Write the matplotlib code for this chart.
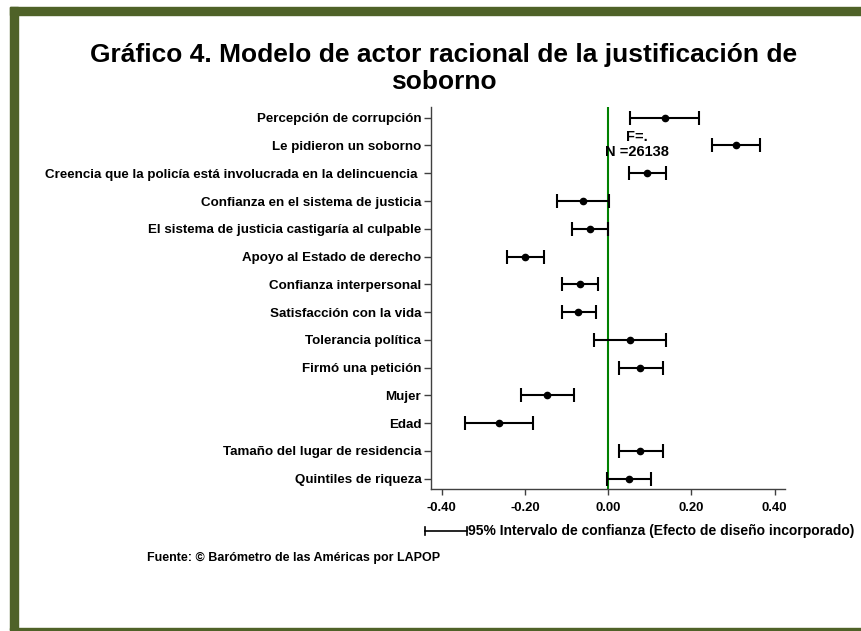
import numpy as np
import matplotlib
matplotlib.use('Agg')
import matplotlib.pyplot as plt
from matplotlib.patches import Rectangle
from matplotlib.lines import Line2D

plt.rcParams['font.family'] = ['Liberation Sans', 'DejaVu Sans']
plt.rcParams['font.weight'] = 'bold'

# data
variables = [
    'Percepción de corrupción',
    'Le pidieron un soborno',
    'Creencia que la policía está involucrada en la delincuencia ',
    'Confianza en el sistema de justicia',
    'El sistema de justicia castigaría al culpable',
    'Apoyo al Estado de derecho',
    'Confianza interpersonal',
    'Satisfacción con la vida',
    'Tolerancia política',
    'Firmó una petición',
    'Mujer',
    'Edad',
    'Tamaño del lugar de residencia',
    'Quintiles de riqueza',
]
coef = [0.136, 0.307, 0.094, -0.060, -0.044, -0.200, -0.069,
        -0.073, 0.052, 0.077, -0.147, -0.263, 0.077, 0.050]
ci_low = [0.052, 0.249, 0.049, -0.122, -0.086, -0.244, -0.111,
          -0.112, -0.034, 0.026, -0.210, -0.344, 0.026, -0.003]
ci_high = [0.219, 0.366, 0.139, 0.002, -0.001, -0.155, -0.024,
           -0.030, 0.139, 0.131, -0.083, -0.181, 0.131, 0.102]
xticks = [-0.40, -0.20, 0.00, 0.20, 0.40]
n_obs = 26138

border = '#4F6228'

fig = plt.figure(figsize=(8.62, 6.31), dpi=100)

# olive frame (top, left, bottom)
fig.patches.append(Rectangle((0.0116, 0.9762), 1.0, 0.0127, transform=fig.transFigure,
                             color=border, zorder=0))
fig.patches.append(Rectangle((0.0116, 0.0016), 0.0093, 0.9873, transform=fig.transFigure,
                             color=border, zorder=0))
fig.patches.append(Rectangle((0.0116, 0.0016), 1.0, 0.0032, transform=fig.transFigure,
                             color=border, zorder=0))

fig.text(0.515, 0.891, 'Gráfico 4. Modelo de actor racional de la justificación de\nsoborno',
         ha='center', va='center', fontsize=19, fontweight='bold', linespacing=1.18)

ax = fig.add_axes([0.5, 0.225, 0.4107, 0.6054])

y = np.arange(len(variables))
c = np.array(coef)
err = [c - np.array(ci_low), np.array(ci_high) - c]

ax.axvline(0, color='#008000', lw=1.5, zorder=1)
ax.errorbar(c, y, xerr=err, fmt='o', color='black', ecolor='black', ms=4.5,
            elinewidth=1.5, capsize=5, capthick=1.5, zorder=3)

ax.text(0.068, 0.97, 'F=.\nN =%d' % n_obs, ha='center', va='center',
        fontsize=10.5, fontweight='bold', linespacing=1.05)

ax.set_xlim(-0.426, 0.425)
ax.set_ylim(len(variables) - 1 + 0.37, -0.385)
ax.set_yticks(y)
ax.set_yticklabels(variables, fontsize=9.6, fontweight='bold')
ax.set_xticks(xticks)
ax.set_xticklabels(['%.2f' % t for t in xticks], fontsize=9.4, fontweight='bold')
ax.tick_params(axis='y', length=5, width=1, color='#404040', pad=2)
ax.tick_params(axis='x', length=4, width=1, color='#404040', pad=5)
for s in ['top', 'right']:
    ax.spines[s].set_visible(False)
for s in ['left', 'bottom']:
    ax.spines[s].set_color('#404040')
    ax.spines[s].set_linewidth(1)

# legend sample for the confidence interval
ly = 0.1585
fig.add_artist(Line2D([0.493, 0.5418], [ly, ly], transform=fig.transFigure,
                      color='black', lw=1.2))
for xx in (0.493, 0.5418):
    fig.add_artist(Line2D([xx, xx], [ly - 0.007, ly + 0.007], transform=fig.transFigure,
                          color='black', lw=1.2))
fig.text(0.543, ly, '95% Intervalo de confianza (Efecto de diseño incorporado)',
         ha='left', va='center', fontsize=10, fontweight='bold')

fig.text(0.1705, 0.1157, 'Fuente: © Barómetro de las Américas por LAPOP',
         ha='left', va='center', fontsize=9, fontweight='bold')

fig.savefig('out.png', dpi=100)
